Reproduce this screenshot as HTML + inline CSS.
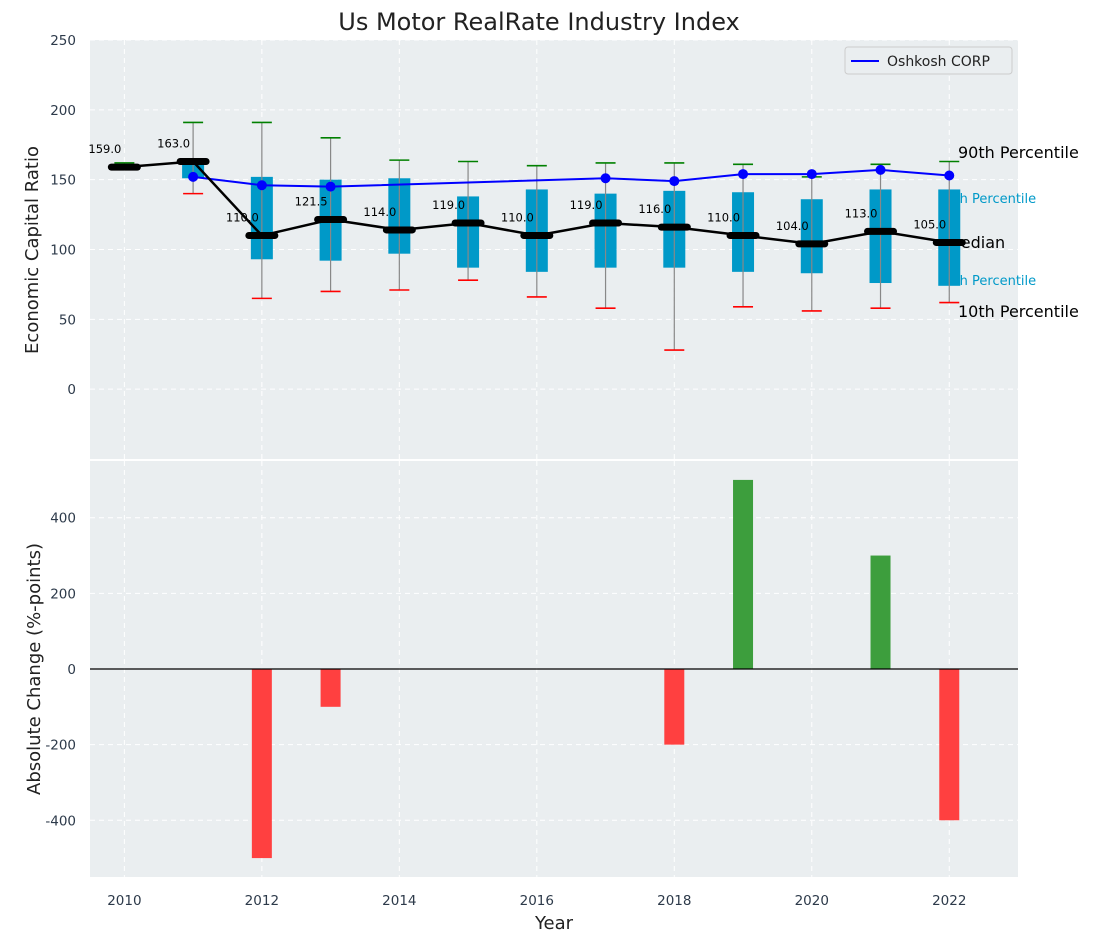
<!DOCTYPE html>
<html><head><meta charset="utf-8"><style>
body{margin:0;background:#fff;font-family:"Liberation Sans","DejaVu Sans",sans-serif;}
svg text{font-family:"DejaVu Sans","Liberation Sans",sans-serif;}
</style></head><body>
<svg id="c" width="1093" height="942" xmlns="http://www.w3.org/2000/svg"></svg>
<script>
const years=[2010,2011,2012,2013,2014,2015,2016,2017,2018,2019,2020,2021,2022];
const medians=[159,163,110,121.5,114,119,110,119,116,110,104,113,105];
const q1=[159,151,93,92,97,87,84,87,87,84,83,76,74];
const q3=[160,163,152,150,151,138,143,140,142,141,136,143,143];
const p10=[158,140,65,70,71,78,66,58,28,59,56,58,62];
const p90=[162,191,191,180,164,163,160,162,162,161,152,161,163];
const oshkosh=[null,152,146,145,null,null,null,151,149,154,154,157,153];
const changes=[0,0,-500,-100,0,0,0,0,-200,500,0,300,-400];
const yTicksTop=[0,50,100,150,200,250];
const yTicksBot=[-400,-200,0,200,400];
const xTicks=[2010,2012,2014,2016,2018,2020,2022];

const svg=document.getElementById('c');
const NS='http://www.w3.org/2000/svg';
function el(t,a,p){const e=document.createElementNS(NS,t);for(const k in a)e.setAttribute(k,a[k]);(p||svg).appendChild(e);return e;}
const X0=90,X1=1018,T0=40,T1=459,B0=461,B1=877;
const x=v=>X0+(v-2009.5)/(2023-2009.5)*(X1-X0);
const yt=v=>T0+(250-v)/300*(T1-T0);
const yb=v=>B0+(550-v)/1100*(B1-B0);

let t=el('text',{x:539,y:30,'font-size':24,'text-anchor':'middle',fill:'#222'});t.textContent='Us Motor RealRate Industry Index';

let r=el('rect',{x:X0,y:T0,width:X1-X0,height:T1-T0,fill:'#eaeef0'});

r=el('rect',{x:X0,y:B0,width:X1-X0,height:B1-B0,fill:'#eaeef0'});

const g='stroke:#fff;stroke-dasharray:5,4;stroke-width:1';
xTicks.forEach(v=>{
  el('line',{x1:x(v),x2:x(v),y1:T0,y2:T1,style:g});
  el('line',{x1:x(v),x2:x(v),y1:B0,y2:B1,style:g});
  const tx=el('text',{x:x(v),y:905,'font-size':13.5,'text-anchor':'middle',fill:'#2d3a4a'});tx.textContent=v;
  
});
yTicksTop.forEach(v=>{
  el('line',{x1:X0,x2:X1,y1:yt(v),y2:yt(v),style:g});
  const tx=el('text',{x:76,y:yt(v)+5,'font-size':13.5,'text-anchor':'end',fill:'#2d3a4a'});tx.textContent=v;
  
});
yTicksBot.forEach(v=>{
  el('line',{x1:X0,x2:X1,y1:yb(v),y2:yb(v),style:g});
  const tx=el('text',{x:76,y:yb(v)+5,'font-size':13.5,'text-anchor':'end',fill:'#2d3a4a'});tx.textContent=v;
  
});
[['90th Percentile',152,'#000',16,958],['75th Percentile',197,'#0099c8',13,938],['Median',242,'#000',16,947],['25th Percentile',279,'#0099c8',13,938],['10th Percentile',311,'#000',16,958]].forEach(d=>{
  const tx=el('text',{x:d[4],y:d[1]+6,'font-size':d[3],fill:d[2]});tx.textContent=d[0];
  
});
years.forEach((yr,i)=>{
  const b=el('rect',{x:x(yr)-11,y:yt(q3[i]),width:22,height:Math.max(1,yt(q1[i])-yt(q3[i])),fill:'#0099c8'});
  
  const w=el('line',{x1:x(yr),x2:x(yr),y1:yt(p90[i]),y2:yt(p10[i]),stroke:'#888','stroke-width':1.2});
  
  const c1=el('line',{x1:x(yr)-10,x2:x(yr)+10,y1:yt(p90[i]),y2:yt(p90[i]),stroke:'green','stroke-width':1.6});
  
  const c2=el('line',{x1:x(yr)-10,x2:x(yr)+10,y1:yt(p10[i]),y2:yt(p10[i]),stroke:'red','stroke-width':1.6});
  
});
years.forEach((yr,i)=>{
  const tx=el('text',{x:x(yr)-3,y:yt(medians[i])-14,'font-size':11.5,'text-anchor':'end',fill:'#000'});tx.textContent=medians[i].toFixed(1);
  
});
const op=years.map((yr,i)=>oshkosh[i]==null?null:[x(yr),yt(oshkosh[i])]).filter(p=>p);
let pl=el('polyline',{points:op.map(p=>p.join(',')).join(' '),fill:'none',stroke:'blue','stroke-width':2});

op.forEach(p=>{const c=el('circle',{cx:p[0],cy:p[1],r:5,fill:'blue'});
  });
pl=el('polyline',{points:years.map((yr,i)=>x(yr)+','+yt(medians[i])).join(' '),fill:'none',stroke:'#000','stroke-width':2.5});

years.forEach((yr,i)=>{
  const m=el('line',{x1:x(yr)-13,x2:x(yr)+13,y1:yt(medians[i]),y2:yt(medians[i]),stroke:'#000','stroke-width':7,'stroke-linecap':'round'});
  
});
let lg=el('g',{});
el('rect',{x:845,y:47,width:167,height:27,rx:3,fill:'#eaeef0',stroke:'#ccc'},lg);
el('line',{x1:851,x2:879,y1:61,y2:61,stroke:'blue','stroke-width':2},lg);
t=el('text',{x:887,y:66,'font-size':14,fill:'#222'},lg);t.textContent='Oshkosh CORP';
years.forEach((yr,i)=>{
  if(!changes[i])return;
  const v=changes[i];
  const b=el('rect',{x:x(yr)-10,y:Math.min(yb(0),yb(v)),width:20,height:Math.abs(yb(v)-yb(0)),fill:v>0?'#3d9e3d':'#ff4040'});
  
});
el('line',{x1:X0,x2:X1,y1:yb(0),y2:yb(0),stroke:'#000','stroke-width':1.2});
t=el('text',{x:38,y:250,'font-size':18,'text-anchor':'middle',fill:'#222',transform:'rotate(-90 38 250)'});t.textContent='Economic Capital Ratio';

t=el('text',{x:34,y:669,'font-size':18,'text-anchor':'middle',fill:'#222',transform:'rotate(-90 34 669)',dy:'6'});t.textContent='Absolute Change (%-points)';

t=el('text',{x:554,y:929,'font-size':18,'text-anchor':'middle',fill:'#222'});t.textContent='Year';

</script>
</body></html>
